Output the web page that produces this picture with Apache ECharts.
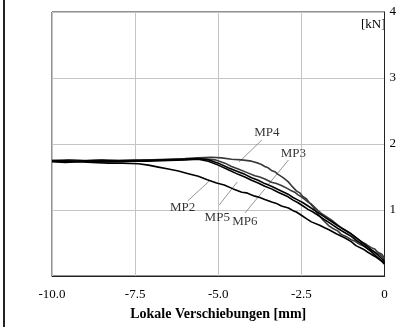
<!DOCTYPE html>
<html>
<head>
<meta charset="utf-8">
<script src="https://cdn.jsdelivr.net/npm/echarts@6/dist/echarts.min.js"></script>
<style>
  html, body { margin: 0; padding: 0; background: #fff; }
  #chart { width: 399px; height: 327px; }
</style>
</head>
<body>
<div id="chart"></div>
<script>
// Measured load vs. local displacement for the measuring points MP2..MP6
const xTicks = [-10, -7.5, -5, -2.5, 0];
const yTicks = [0, 1, 2, 3, 4];

const mp2 = [[-10,1.73],[-9.6,1.72],[-9.2,1.73],[-8.8,1.72],[-8.3,1.71],[-7.9,1.71],[-7.4,1.70],[-7.1,1.68],[-6.8,1.65],[-6.5,1.62],[-6.2,1.59],[-5.9,1.55],[-5.6,1.51],[-5.33,1.46],[-5.05,1.41],[-4.82,1.38],[-4.55,1.32],[-4.29,1.27],[-4.15,1.26],[-4.05,1.24],[-3.9,1.21],[-3.75,1.19],[-3.6,1.16],[-3.39,1.12],[-3.25,1.10],[-3.1,1.06],[-2.89,1.03],[-2.75,0.99],[-2.65,0.97],[-2.5,0.92],[-2.35,0.87],[-2.2,0.82],[-1.95,0.77],[-1.8,0.73],[-1.67,0.70],[-1.45,0.64],[-1.2,0.58],[-1.0,0.52],[-0.86,0.46],[-0.65,0.41],[-0.5,0.36],[-0.3,0.30],[-0.15,0.25],[0,0.20]];
const mp3 = [[-10,1.74],[-9.4,1.75],[-8.8,1.74],[-8.2,1.75],[-7.6,1.75],[-7.0,1.76],[-6.4,1.76],[-5.9,1.77],[-5.5,1.78],[-5.1,1.76],[-4.8,1.71],[-4.6,1.66],[-4.4,1.62],[-4.15,1.57],[-3.9,1.52],[-3.75,1.50],[-3.6,1.47],[-3.4,1.42],[-3.25,1.40],[-3.1,1.37],[-2.9,1.32],[-2.8,1.29],[-2.7,1.27],[-2.6,1.23],[-2.5,1.20],[-2.4,1.16],[-2.3,1.12],[-2.2,1.09],[-2.1,1.04],[-2.0,0.99],[-1.9,0.95],[-1.75,0.90],[-1.6,0.85],[-1.45,0.79],[-1.3,0.73],[-1.15,0.68],[-1.0,0.63],[-0.85,0.57],[-0.7,0.52],[-0.55,0.48],[-0.4,0.43],[-0.3,0.41],[-0.2,0.36],[-0.08,0.33],[0,0.27]];
const mp4 = [[-10,1.75],[-9.5,1.76],[-9.0,1.75],[-8.5,1.76],[-8.0,1.75],[-7.5,1.76],[-7.0,1.76],[-6.5,1.77],[-6.0,1.78],[-5.6,1.79],[-5.2,1.80],[-4.9,1.79],[-4.6,1.77],[-4.3,1.76],[-4.0,1.74],[-3.8,1.71],[-3.7,1.69],[-3.6,1.66],[-3.5,1.64],[-3.4,1.60],[-3.3,1.58],[-3.2,1.54],[-3.05,1.49],[-2.9,1.43],[-2.8,1.37],[-2.65,1.29],[-2.55,1.26],[-2.45,1.20],[-2.35,1.17],[-2.26,1.11],[-2.15,1.05],[-2.05,0.97],[-1.95,0.91],[-1.85,0.85],[-1.75,0.80],[-1.67,0.76],[-1.55,0.72],[-1.4,0.68],[-1.3,0.63],[-1.16,0.60],[-1.0,0.55],[-0.9,0.53],[-0.75,0.48],[-0.65,0.46],[-0.5,0.41],[-0.35,0.38],[-0.25,0.35],[-0.15,0.33],[-0.05,0.28],[0,0.23]];
const mp5 = [[-10,1.75],[-9.3,1.74],[-8.6,1.75],[-8.0,1.74],[-7.3,1.75],[-6.7,1.76],[-6.1,1.77],[-5.6,1.78],[-5.3,1.76],[-5.0,1.71],[-4.7,1.64],[-4.4,1.58],[-4.2,1.54],[-4.0,1.49],[-3.8,1.45],[-3.6,1.40],[-3.4,1.36],[-3.2,1.31],[-2.9,1.24],[-2.75,1.19],[-2.6,1.15],[-2.45,1.11],[-2.3,1.06],[-2.15,1.01],[-2.0,0.96],[-1.85,0.91],[-1.7,0.86],[-1.55,0.81],[-1.4,0.76],[-1.2,0.70],[-1.0,0.64],[-0.85,0.58],[-0.7,0.52],[-0.55,0.46],[-0.4,0.40],[-0.2,0.32],[0,0.22]];
const mp6 = [[-10,1.74],[-9.5,1.73],[-8.9,1.74],[-8.3,1.73],[-7.7,1.74],[-7.1,1.74],[-6.5,1.75],[-6.0,1.76],[-5.6,1.77],[-5.3,1.74],[-5.0,1.68],[-4.7,1.61],[-4.4,1.54],[-4.2,1.50],[-4.0,1.45],[-3.8,1.41],[-3.6,1.36],[-3.4,1.32],[-3.2,1.27],[-2.9,1.20],[-2.75,1.15],[-2.6,1.11],[-2.45,1.06],[-2.3,1.01],[-2.15,0.97],[-2.0,0.92],[-1.85,0.87],[-1.7,0.82],[-1.55,0.77],[-1.4,0.72],[-1.2,0.66],[-1.0,0.60],[-0.85,0.54],[-0.7,0.49],[-0.55,0.43],[-0.4,0.37],[-0.2,0.28],[0,0.18]];

// Curve labels: name, label position, leader line start and end (data units)
const labelNames = ['MP2', 'MP3', 'MP4', 'MP5', 'MP6'];
const labelPos = [[-6.07, 1.03], [-2.74, 1.86], [-3.54, 2.17], [-5.03, 0.89], [-4.20, 0.82]];
const leaderFrom = [[-5.92, 1.136], [-2.887, 1.758], [-3.69, 2.06], [-4.97, 1.076], [-4.196, 0.955]];
const leaderTo = [[-5.27, 1.439], [-3.48, 1.394], [-4.375, 1.727], [-4.43, 1.424], [-3.60, 1.318]];

const serif = '"Liberation Serif", "DejaVu Serif", serif';

const curves = [
  { name: 'MP2', data: mp2, color: '#000000' },
  { name: 'MP3', data: mp3, color: '#3a3a3a' },
  { name: 'MP4', data: mp4, color: '#3a3a3a' },
  { name: 'MP5', data: mp5, color: '#000000' },
  { name: 'MP6', data: mp6, color: '#000000' }
];

const series = [];
labelNames.forEach((n, i) => {
  series.push({
    type: 'line', silent: true, symbol: 'none', z: 1,
    data: [leaderFrom[i], leaderTo[i]],
    lineStyle: { color: '#7a7a7a', width: 0.8 }
  });
});
curves.forEach(c => {
  series.push({
    name: c.name, type: 'line', symbol: 'none', z: 3,
    data: c.data,
    lineStyle: { color: c.color, width: 1.6 }
  });
});
series.push({
  type: 'scatter', symbolSize: 0, silent: true, z: 4,
  data: labelPos.map((p, i) => ({ name: labelNames[i], value: p })),
  label: {
    show: true, position: 'inside', formatter: '{b}',
    fontFamily: serif, fontSize: 13, color: '#000'
  }
});

const chart = echarts.init(document.getElementById('chart'), null, { renderer: 'canvas' });
chart.setOption({
  animation: false,
  backgroundColor: '#fff',
  grid: { left: 52, top: 12, right: 10, bottom: 51, show: true, borderColor: '#222', borderWidth: 1 },
  xAxis: {
    type: 'value', min: xTicks[0], max: xTicks[xTicks.length - 1], interval: 2.5,
    name: 'Lokale Verschiebungen [mm]', nameLocation: 'middle', nameGap: 31,
    nameTextStyle: { fontFamily: serif, fontSize: 14, fontWeight: 'bold', color: '#000' },
    axisLine: { show: true, lineStyle: { color: '#222', width: 1 } },
    axisTick: { show: false },
    axisLabel: {
      margin: 12, fontFamily: serif, fontSize: 13, color: '#000',
      formatter: v => (v === 0 ? '0' : v.toFixed(1))
    },
    splitLine: { show: true, lineStyle: { color: '#c4c4c4', width: 1 } }
  },
  yAxis: {
    type: 'value', position: 'right', min: yTicks[0], max: yTicks[yTicks.length - 1], interval: 1,
    axisLine: { show: true, lineStyle: { color: '#222', width: 1 } },
    axisTick: { show: false },
    axisLabel: {
      margin: 5, fontFamily: serif, fontSize: 13, color: '#000',
      formatter: v => (v === 0 ? '' : String(v))
    },
    splitLine: { show: true, lineStyle: { color: '#c4c4c4', width: 1 } }
  },
  graphic: [
    { type: 'line', shape: { x1: 4, y1: 0, x2: 4, y2: 327 }, style: { stroke: '#222', lineWidth: 2 } },
    { type: 'text', left: 361, top: 18, style: { text: '[kN]', font: '13px ' + serif, fill: '#000' } }
  ],
  series: series
});
</script>
</body>
</html>
